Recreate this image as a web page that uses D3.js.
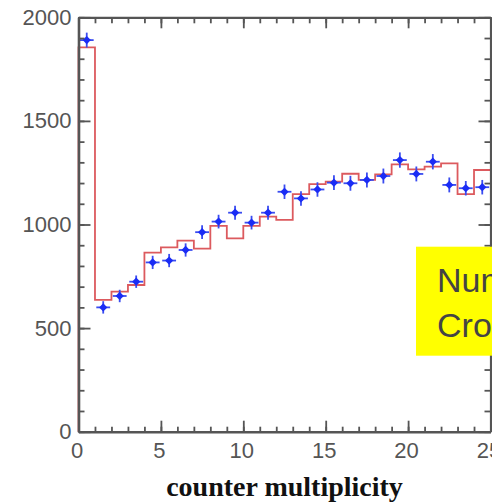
<!DOCTYPE html>
<html>
<head>
<meta charset="utf-8">
<script src="https://cdn.jsdelivr.net/npm/d3@7"></script>
<style>
html,body{margin:0;padding:0;background:#fff;overflow:hidden;}
svg{display:block;}
</style>
</head>
<body>
<svg id="chart" width="492" height="502"></svg>
<script>
// ---- data ----
const binEdges = d3.range(0, 26);            // counter multiplicity bin edges 0..25
const simValues = [1855, 636, 676, 708, 864, 890, 922, 884, 993, 933,
                   993, 1038, 1022, 1147, 1195, 1207, 1245, 1215, 1242, 1290,
                   1266, 1279, 1295, 1147, 1263];
const dataX = [0.5, 1.5, 2.5, 3.5, 4.5, 5.5, 6.5, 7.5, 8.5, 9.5,
               10.5, 11.5, 12.5, 13.5, 14.5, 15.5, 16.5, 17.5, 18.5, 19.5,
               20.5, 21.5, 22.5, 23.5, 24.5];
const dataY = [1890, 600, 655, 724, 817, 826, 877, 963, 1014, 1057,
               1009, 1057, 1158, 1126, 1169, 1202, 1199, 1215, 1234, 1311,
               1244, 1303, 1191, 1175, 1180];
const dataYErr = [36, 30, 30, 30, 32, 32, 32, 33, 33, 34,
                  33, 34, 35, 35, 35, 36, 36, 36, 36, 37,
                  36, 37, 36, 35, 35];
const dataXErr = 0.42;
const xMajorTicks = [0, 5, 10, 15, 20, 25];
const yMajorTicks = [0, 500, 1000, 1500, 2000];
const xTitle = "counter multiplicity";
const noteLines = ["Number", "Cross"];

// ---- layout ----
const svg = d3.select("#chart");
const x = d3.scaleLinear().domain([0, 25]).range([78.5, 490.5]);
const y = d3.scaleLinear().domain([0, 2000]).range([431.7, 17.3]);
const axisColor = "#555";
const fontSans = "'Liberation Sans', Arial, Helvetica, sans-serif";

// histogram (simulation) step line
const stepPts = simValues.map((v, i) => [binEdges[i], v]);
stepPts.push([binEdges[simValues.length], simValues[simValues.length - 1]]);
stepPts.unshift([0, 0]);
svg.append("path")
  .attr("d", d3.line().x(d => x(d[0])).y(d => y(d[1])).curve(d3.curveStepAfter)(stepPts))
  .attr("fill", "none")
  .attr("stroke", "#dc5a5e")
  .attr("stroke-width", 1.8);

// data points with error bars
const pts = dataX.map((vx, i) => ({x: vx, y: dataY[i], e: dataYErr[i]}));
const g = svg.append("g");
g.selectAll("line.ex").data(pts).enter().append("line")
  .attr("x1", d => x(d.x - dataXErr)).attr("x2", d => x(d.x + dataXErr))
  .attr("y1", d => y(d.y)).attr("y2", d => y(d.y))
  .attr("stroke", "#3a4cf0").attr("stroke-width", 1.8);
g.selectAll("line.ey").data(pts).enter().append("line")
  .attr("x1", d => x(d.x)).attr("x2", d => x(d.x))
  .attr("y1", d => y(d.y - d.e)).attr("y2", d => y(d.y + d.e))
  .attr("stroke", "#3a4cf0").attr("stroke-width", 1.8);
g.selectAll("path.pt").data(pts).enter().append("path")
  .attr("d", d3.symbol(d3.symbolSquare, 34)())
  .attr("transform", d => `translate(${x(d.x)},${y(d.y)}) rotate(45)`)
  .attr("fill", "#1a2cf5");

// axes
function styleAxis(sel, width) {
  sel.select(".domain").attr("stroke", axisColor).attr("stroke-width", width);
  sel.selectAll(".tick line").attr("stroke", axisColor).attr("stroke-width", 1.8);
  sel.selectAll(".tick text").attr("fill", axisColor)
    .style("font-family", fontSans).style("font-size", "22px");
}
const H = y(0), T = y(2000), L = x(0), R = x(25);

// minor ticks
const xMinor = d3.range(0, 26);
const yMinor = d3.range(0, 2001, 100);
const noLbl = () => "";
styleAxis(svg.append("g").attr("transform", `translate(0,${H})`)
  .call(d3.axisBottom(x).tickValues(xMinor).tickSize(-5).tickFormat(noLbl)), 0);
styleAxis(svg.append("g").attr("transform", `translate(0,${T})`)
  .call(d3.axisTop(x).tickValues(xMinor).tickSize(-6).tickFormat(noLbl)), 0);
styleAxis(svg.append("g").attr("transform", `translate(${L},0)`)
  .call(d3.axisLeft(y).tickValues(yMinor).tickSize(-6).tickFormat(noLbl)), 0);
styleAxis(svg.append("g").attr("transform", `translate(${R},0)`)
  .call(d3.axisRight(y).tickValues(yMinor).tickSize(-6).tickFormat(noLbl)), 0);

// major ticks + labels
const xb = svg.append("g").attr("transform", `translate(0,${H})`)
  .call(d3.axisBottom(x).tickValues(xMajorTicks).tickSize(-11).tickSizeOuter(0).tickPadding(11).tickFormat(d3.format("d")));
styleAxis(xb, 2.6);
xb.selectAll(".tick text").attr("dx", -2);
styleAxis(svg.append("g").attr("transform", `translate(0,${T})`)
  .call(d3.axisTop(x).tickValues(xMajorTicks).tickSize(-11).tickSizeOuter(0).tickFormat(noLbl)), 2.2);
styleAxis(svg.append("g").attr("transform", `translate(${L},0)`)
  .call(d3.axisLeft(y).tickValues(yMajorTicks).tickSize(-12).tickSizeOuter(0).tickPadding(7).tickFormat(d3.format("d"))), 2.6);
styleAxis(svg.append("g").attr("transform", `translate(${R},0)`)
  .call(d3.axisRight(y).tickValues(yMajorTicks).tickSize(-12).tickSizeOuter(0).tickFormat(noLbl)), 2.2);

// x title
svg.append("text")
  .attr("x", (L + R) / 2 - 0).attr("y", 496)
  .attr("text-anchor", "middle")
  .style("font-family", "'Liberation Serif', 'Times New Roman', serif")
  .style("font-weight", "bold").style("font-size", "28px")
  .attr("fill", "#111")
  .text(xTitle);

// yellow note box (clipped by the picture edge, as in the reference)
svg.append("rect").attr("x", 416).attr("y", 246.7).attr("width", 200).attr("height", 109)
  .attr("fill", "#ffff00");
svg.append("g").selectAll("text").data(noteLines).enter().append("text")
  .attr("x", 437).attr("y", (d, i) => 292 + i * 44.7)
  .style("font-family", fontSans).style("font-size", "34px")
  .attr("fill", "#444")
  .text(d => d);
</script>
</body>
</html>
